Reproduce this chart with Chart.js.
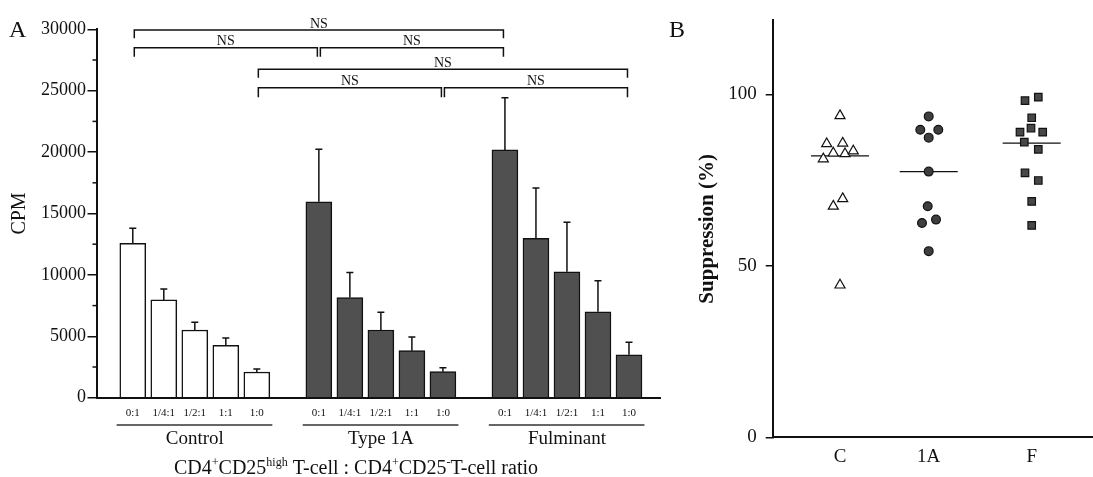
<!DOCTYPE html>
<html><head><meta charset="utf-8">
<script src="https://cdn.jsdelivr.net/npm/chart.js@4.4.1/dist/chart.umd.min.js"></script>
<style>
html,body{margin:0;padding:0;background:#fff;width:1093px;height:477px;overflow:hidden;}
#a{position:absolute;left:0;top:0;}
#b{position:absolute;left:650px;top:0;}
</style></head><body>
<canvas id="a" width="662" height="477"></canvas>
<canvas id="b" width="443" height="477"></canvas>
<script>
// ---------- Panel A data ----------
const ratioLabels = ['0:1', '1/4:1', '1/2:1', '1:1', '1:0'];
const groups = ['Control', 'Type 1A', 'Fulminant'];
const controlMean = [12580, 7960, 5510, 4270, 2090];
const controlUpper = [13800, 8850, 6140, 4860, 2340];
const type1AMean = [15950, 8160, 5510, 3830, 2120];
const type1AUpper = [20230, 10200, 6950, 4940, 2440];
const fulminantMean = [20180, 12980, 10260, 7000, 3500];
const fulminantUpper = [24430, 17070, 14280, 9530, 4510];
const cpmTicks = [0, 5000, 10000, 15000, 20000, 25000, 30000];
const cpmMinorTicks = [2500, 7500, 12500, 17500, 22500, 27500];
// comparisons: [group, ratio index] pairs, bracket level and foot (CPM)
const bracketPairs = [[[0,0],[2,0]], [[0,0],[1,0]], [[1,0],[2,0]], [[0,4],[2,4]], [[0,4],[1,4]], [[1,4],[2,4]]];
const bracketLevel = [29940, 28500, 28500, 26740, 25240, 25240];
const bracketFoot = [29270, 27770, 27770, 26060, 24460, 24460];
const bracketText = ['NS', 'NS', 'NS', 'NS', 'NS', 'NS'];

// ---------- Panel B data ----------
const suppCats = ['C', '1A', 'F'];
const suppTicks = [0, 50, 100];
const suppC = [93.8, 85.6, 85.8, 82.9, 82.7, 83.5, 81.2, 69.6, 67.4, 44.4];
const jitterC = [0, -0.133, 0.027, -0.067, 0.05, 0.133, -0.167, 0.027, -0.067, 0];
const supp1A = [93.6, 89.7, 89.7, 87.4, 77.5, 67.4, 62.5, 63.5, 54.3];
const jitter1A = [0, -0.084, 0.096, 0, 0, -0.01, -0.067, 0.073, 0];
const suppF = [98.2, 99.2, 93.2, 89.0, 90.2, 89.0, 86.1, 84.0, 77.1, 74.9, 68.8, 61.8];
const jitterF = [-0.067, 0.066, 0, -0.117, -0.007, 0.11, -0.074, 0.066, -0.067, 0.066, 0, 0];
const suppMedians = [82.1, 77.5, 85.8];

// ---------- setup ----------
const FONT = '"Liberation Serif", "Times New Roman", serif';
Chart.defaults.font.family = FONT;
Chart.defaults.color = '#111';
Chart.defaults.animation = false;
Chart.defaults.devicePixelRatio = 1;

const groupMeans = [controlMean, type1AMean, fulminantMean];
const groupUppers = [controlUpper, type1AUpper, fulminantUpper];
const slot = (g, i) => g * 6 + i + 1;
const allSlots = [];
groups.forEach((_, g) => ratioLabels.forEach((_, i) => allSlots.push(slot(g, i))));

const panelAPlugin = {
  id: 'panelA',
  afterDatasetsDraw(chart) {
    const ctx = chart.ctx, xs = chart.scales.x, ys = chart.scales.y;
    ctx.save();
    ctx.strokeStyle = '#111';
    ctx.lineWidth = 1.5;
    groupMeans.forEach((means, g) => {
      means.forEach((m, i) => {
        const x = xs.getPixelForValue(slot(g, i));
        const y0 = ys.getPixelForValue(m);
        const y1 = ys.getPixelForValue(groupUppers[g][i]);
        ctx.beginPath();
        ctx.moveTo(x, y0); ctx.lineTo(x, y1);
        ctx.moveTo(x - 3.5, y1); ctx.lineTo(x + 3.5, y1);
        ctx.stroke();
      });
    });
    ctx.restore();
  },
  afterDraw(chart) {
    const ctx = chart.ctx, xs = chart.scales.x, ys = chart.scales.y, ca = chart.chartArea;
    ctx.save();
    ctx.strokeStyle = '#111';
    ctx.fillStyle = '#111';
    // minor ticks
    ctx.lineWidth = 1.5;
    cpmMinorTicks.forEach(v => {
      const y = ys.getPixelForValue(v);
      ctx.beginPath(); ctx.moveTo(ca.left - 4, y); ctx.lineTo(ca.left, y); ctx.stroke();
    });
    // brackets
    ctx.font = '14px ' + FONT;
    ctx.textAlign = 'center';
    ctx.textBaseline = 'alphabetic';
    bracketPairs.forEach((p, k) => {
      const x1 = xs.getPixelForValue(slot(p[0][0], p[0][1])) + 1.5;
      const x2 = xs.getPixelForValue(slot(p[1][0], p[1][1])) - 1.5;
      const yt = ys.getPixelForValue(bracketLevel[k]);
      const yf = ys.getPixelForValue(bracketFoot[k]);
      ctx.beginPath();
      ctx.moveTo(x1, yf); ctx.lineTo(x1, yt); ctx.lineTo(x2, yt); ctx.lineTo(x2, yf);
      ctx.stroke();
      ctx.fillText(bracketText[k], (x1 + x2) / 2, yt - 2.5);
    });
    // group underlines and names
    const yUnder = ca.bottom + 27.3;
    ctx.strokeStyle = '#333';
    ctx.lineWidth = 1.6;
    ctx.font = '19px ' + FONT;
    ctx.textBaseline = 'middle';
    groups.forEach((name, g) => {
      const xa = xs.getPixelForValue(slot(g, 0) - 0.52);
      const xb = xs.getPixelForValue(slot(g, 4) + 0.5);
      ctx.beginPath(); ctx.moveTo(xa, yUnder); ctx.lineTo(xb, yUnder); ctx.stroke();
      ctx.fillText(name, xs.getPixelForValue(slot(g, 2)), ca.bottom + 41);
    });
    // axis title with superscripts
    const segs = [['CD4', 0], ['+', 1], ['CD25', 0], ['high', 1], [' T-cell : CD4', 0], ['+', 1], ['CD25', 0], ['-', 1], ['T-cell ratio', 0]];
    const fN = '20px ' + FONT, fS = '12px ' + FONT;
    let total = 0;
    segs.forEach(s => { ctx.font = s[1] ? fS : fN; total += ctx.measureText(s[0]).width; });
    let x = 356 - total / 2;
    const base = 473.5;
    ctx.textAlign = 'left';
    ctx.textBaseline = 'alphabetic';
    segs.forEach(s => {
      ctx.font = s[1] ? fS : fN;
      ctx.fillText(s[0], x, s[1] ? base - 7.5 : base);
      x += ctx.measureText(s[0]).width;
    });
    // panel letter
    ctx.font = '24px ' + FONT;
    ctx.fillText('A', 9, 37);
    ctx.restore();
  }
};

new Chart(document.getElementById('a'), {
  type: 'bar',
  data: {
    datasets: groups.map((name, g) => ({
      label: name,
      data: groupMeans[g].map((v, i) => ({ x: slot(g, i), y: v })),
      backgroundColor: g === 0 ? '#ffffff' : '#505050',
      borderColor: '#111',
      borderWidth: 1.5,
      borderSkipped: 'bottom',
      barThickness: 26,
      grouped: false
    }))
  },
  options: {
    responsive: false,
    animation: false,
    layout: { autoPadding: false, padding: { top: 29.3, right: 2, left: 0, bottom: 0 } },
    plugins: { legend: { display: false }, tooltip: { enabled: false } },
    scales: {
      x: {
        type: 'linear', min: -0.17, max: 18, offset: false,
        grid: { display: false, drawTicks: false, offset: false },
        border: { display: true, color: '#111', width: 2 },
        afterBuildTicks: s => { s.ticks = allSlots.map(v => ({ value: v })); },
        afterFit: s => { s.height = 79.3; },
        ticks: {
          autoSkip: false, maxRotation: 0, padding: 9, color: '#111',
          font: { size: 11 },
          callback: v => ratioLabels[(Math.round(v) - 1) % 6]
        }
      },
      y: {
        min: 0, max: 30000,
        afterBuildTicks: s => { s.ticks = cpmTicks.map(v => ({ value: v })); },
        afterFit: s => { s.width = 96.5; },
        grid: { drawOnChartArea: false, drawTicks: true, tickLength: 9, color: '#111', lineWidth: 1.5 },
        border: { display: true, color: '#111', width: 2 },
        ticks: { padding: 1.5, color: '#111', font: { size: 18 }, callback: v => String(v) },
        title: { display: true, text: 'CPM', color: '#111', font: { size: 20 }, padding: { top: 8, bottom: 0 } }
      }
    }
  },
  plugins: [panelAPlugin]
});

// ---------- Panel B ----------
const groupX = [0.673, 1.56, 2.59];
const medianHalf = 0.29;
const panelBPlugin = {
  id: 'panelB',
  afterDraw(chart) {
    const ctx = chart.ctx;
    ctx.save();
    ctx.fillStyle = '#111';
    ctx.font = '24px ' + FONT;
    ctx.textBaseline = 'alphabetic';
    ctx.fillText('B', 19, 37);
    ctx.restore();
  }
};
const medianSets = suppMedians.map((m, k) => ({
  type: 'line',
  data: [{ x: groupX[k] - medianHalf, y: m }, { x: groupX[k] + medianHalf, y: m }],
  borderColor: '#111', borderWidth: 1.3, pointRadius: 0, showLine: true, order: 5
}));
new Chart(document.getElementById('b'), {
  type: 'scatter',
  data: {
    datasets: [
      ...medianSets,
      { label: 'C', data: suppC.map((v, i) => ({ x: groupX[0] + jitterC[i], y: v })),
        pointStyle: 'triangle', pointRadius: 5.8, pointBackgroundColor: '#ffffff', pointBorderColor: '#111', pointBorderWidth: 1.2, order: 1 },
      { label: '1A', data: supp1A.map((v, i) => ({ x: groupX[1] + jitter1A[i], y: v })),
        pointStyle: 'circle', pointRadius: 4.4, pointBackgroundColor: '#3e3e3e', pointBorderColor: '#111', pointBorderWidth: 1.2, order: 1 },
      { label: 'F', data: suppF.map((v, i) => ({ x: groupX[2] + jitterF[i], y: v })),
        pointStyle: 'rect', pointRadius: 5.3, pointBackgroundColor: '#474747', pointBorderColor: '#111', pointBorderWidth: 1.2, order: 1 }
    ]
  },
  options: {
    responsive: false,
    animation: false,
    layout: { autoPadding: false, padding: { top: 19, right: 0, left: 0, bottom: 0 } },
    plugins: { legend: { display: false }, tooltip: { enabled: false } },
    scales: {
      x: {
        type: 'linear', min: 0, max: 3.203,
        grid: { display: false, drawTicks: false },
        border: { display: true, color: '#111', width: 2 },
        afterBuildTicks: s => { s.ticks = groupX.map(v => ({ value: v })); },
        afterFit: s => { s.height = 39.7; },
        ticks: { autoSkip: false, maxRotation: 0, padding: 8, color: '#111', font: { size: 19 },
          callback: (v, i) => suppCats[i] }
      },
      y: {
        min: 0, max: 121.6,
        afterBuildTicks: s => { s.ticks = suppTicks.map(v => ({ value: v })); },
        afterFit: s => { s.width = 122.7; },
        grid: { drawOnChartArea: false, drawTicks: true, tickLength: 7, color: '#111', lineWidth: 1.5 },
        border: { display: true, color: '#111', width: 2 },
        ticks: { padding: 9, color: '#111', font: { size: 19 } },
        title: { display: true, text: 'Suppression (%)', color: '#111', font: { size: 21, weight: 'bold' }, padding: { top: 45, bottom: 0 } }
      }
    }
  },
  plugins: [panelBPlugin]
});
</script></body></html>
